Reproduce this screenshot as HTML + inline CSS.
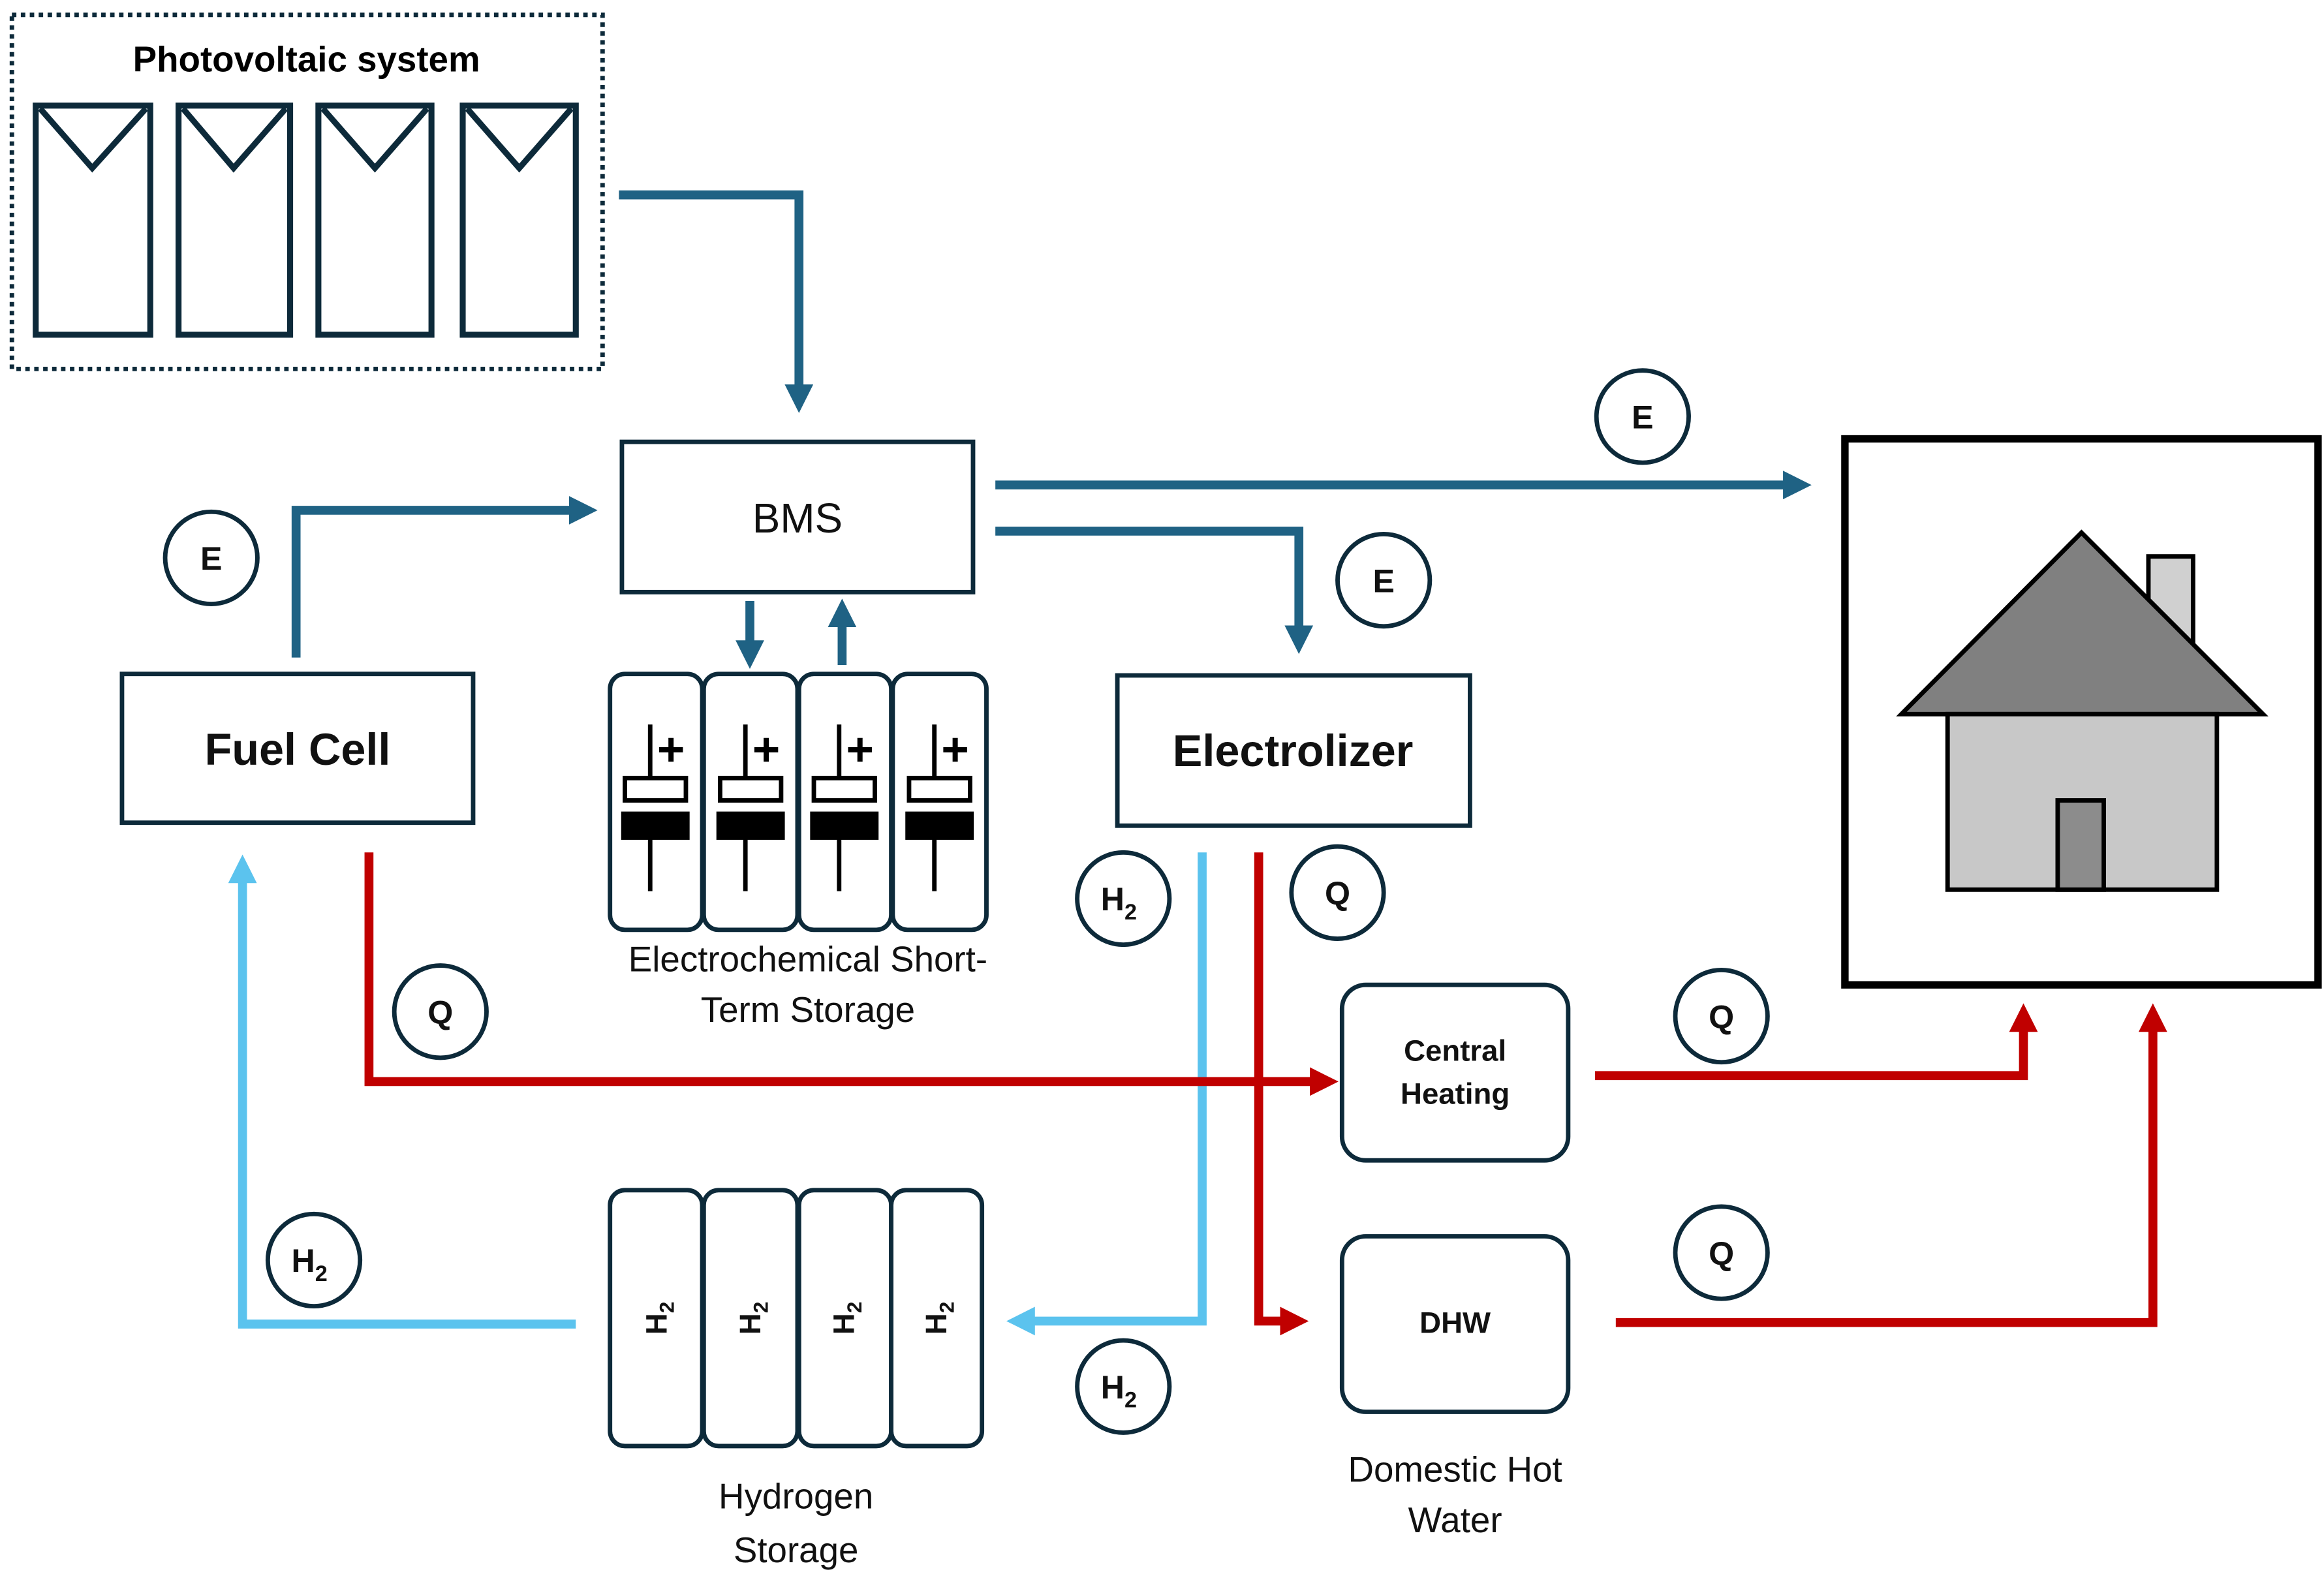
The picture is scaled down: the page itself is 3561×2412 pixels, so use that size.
<!DOCTYPE html>
<html><head><meta charset="utf-8"><style>html,body{margin:0;padding:0;background:#fff}svg{display:block}</style></head>
<body>
<svg width="3561" height="2412" viewBox="0 0 1562 1058" preserveAspectRatio="none" xmlns="http://www.w3.org/2000/svg" font-family="Liberation Sans, sans-serif">
<defs>
<marker id="ab" viewBox="0 0 10 10" refX="5" refY="5" markerWidth="3.2" markerHeight="3.2" orient="auto"><path d="M0,0L10,5L0,10z" fill="#1f6284"/></marker>
<marker id="ar" viewBox="0 0 10 10" refX="5" refY="5" markerWidth="3.2" markerHeight="3.2" orient="auto"><path d="M0,0L10,5L0,10z" fill="#c00000"/></marker>
<marker id="al" viewBox="0 0 10 10" refX="5" refY="5" markerWidth="3.2" markerHeight="3.2" orient="auto"><path d="M0,0L10,5L0,10z" fill="#5bc3ee"/></marker>
</defs>
<g stroke="#0d2a3a" fill="none">
<rect x="8" y="10" width="397" height="238" stroke-width="3" stroke-dasharray="3,3"/>
<g stroke-width="4">
<rect x="24" y="71" width="77" height="154"/><path d="M27,73L62,113L98,73"/>
<rect x="120" y="71" width="75" height="154"/><path d="M123,73L157,113L192,73"/>
<rect x="214" y="71" width="76" height="154"/><path d="M217,73L252,113L287,73"/>
<rect x="311" y="71" width="76" height="154"/><path d="M314,73L349,113L384,73"/>
</g>
</g>
<text x="206" y="48" font-size="24" font-weight="bold" text-anchor="middle" fill="#000">Photovoltaic system</text>
<g stroke="#1f6284" stroke-width="6" fill="none">
<path d="M416,131H537V268" marker-end="url(#ab)"/>
<path d="M669,326H1208" marker-end="url(#ab)"/>
<path d="M669,357H873V430" marker-end="url(#ab)"/>
<path d="M199,442V343H392" marker-end="url(#ab)"/>
<path d="M504,404V440" marker-end="url(#ab)"/>
<path d="M566,447V412" marker-end="url(#ab)"/>
</g>
<g stroke="#5bc3ee" stroke-width="6" fill="none">
<path d="M808,573V888H686" marker-end="url(#al)"/>
<path d="M387,890H163V584" marker-end="url(#al)"/>
</g>
<g stroke="#c00000" stroke-width="6" fill="none">
<path d="M846,573V888H870" marker-end="url(#ar)"/>
<path d="M248,573V727H890" marker-end="url(#ar)"/>
<path d="M1072,723H1360V684" marker-end="url(#ar)"/>
<path d="M1086,889H1447V684" marker-end="url(#ar)"/>
</g>
<g stroke="#0d2a3a" stroke-width="3" fill="#fff">
<rect x="418" y="297" width="236" height="101"/>
<rect x="82" y="453" width="236" height="100"/>
<rect x="751" y="454" width="237" height="101"/>
<rect x="902" y="662" width="152" height="118" rx="16"/>
<rect x="902" y="831" width="152" height="118" rx="16"/>
<rect x="410" y="453" width="62" height="172" rx="10"/>
<rect x="473" y="453" width="63" height="172" rx="10"/>
<rect x="537" y="453" width="62" height="172" rx="10"/>
<rect x="600" y="453" width="63" height="172" rx="10"/>
<rect x="410" y="800" width="62" height="172" rx="10"/>
<rect x="473" y="800" width="63" height="172" rx="10"/>
<rect x="537" y="800" width="62" height="172" rx="10"/>
<rect x="599" y="800" width="61" height="172" rx="10"/>
<circle cx="1104" cy="280" r="31"/><circle cx="930" cy="390" r="31"/><circle cx="142" cy="375" r="31"/>
<circle cx="899" cy="600" r="31"/><circle cx="755" cy="604" r="31"/>
<circle cx="296" cy="680" r="31"/><circle cx="1157" cy="683" r="31"/><circle cx="1157" cy="842" r="31"/>
<circle cx="211" cy="847" r="31"/><circle cx="755" cy="932" r="31"/>
</g>
<g stroke="#000" stroke-width="3" fill="#fff">
<g transform="translate(441,0)"><path d="M-4,487V523" fill="none"/><path d="M2,504H18M10,496V512" fill="none" stroke-width="3.5"/><rect x="-21" y="523" width="41" height="15"/><rect x="-22" y="547" width="43" height="16" fill="#000"/><path d="M-4,563V599"/></g>
<g transform="translate(505,0)"><path d="M-4,487V523" fill="none"/><path d="M2,504H18M10,496V512" fill="none" stroke-width="3.5"/><rect x="-21" y="523" width="41" height="15"/><rect x="-22" y="547" width="43" height="16" fill="#000"/><path d="M-4,563V599"/></g>
<g transform="translate(568,0)"><path d="M-4,487V523" fill="none"/><path d="M2,504H18M10,496V512" fill="none" stroke-width="3.5"/><rect x="-21" y="523" width="41" height="15"/><rect x="-22" y="547" width="43" height="16" fill="#000"/><path d="M-4,563V599"/></g>
<g transform="translate(632,0)"><path d="M-4,487V523" fill="none"/><path d="M2,504H18M10,496V512" fill="none" stroke-width="3.5"/><rect x="-21" y="523" width="41" height="15"/><rect x="-22" y="547" width="43" height="16" fill="#000"/><path d="M-4,563V599"/></g>
</g>
<rect x="1240" y="295" width="318" height="367" fill="none" stroke="#000" stroke-width="5"/>
<g stroke="#000" stroke-width="3">
<rect x="1444" y="374" width="30" height="60" fill="#d0d0d0"/>
<path d="M1278,480L1399,358L1521,480Z" fill="#808080"/>
<rect x="1309" y="480" width="181" height="118" fill="#c8c8c8"/>
<rect x="1383" y="538" width="31" height="60" fill="#8c8c8c"/>
</g>
<g fill="#111" text-anchor="middle">
<text x="536" y="358" font-size="28">BMS</text>
<text x="200" y="514" font-size="30" font-weight="bold">Fuel Cell</text>
<text x="869" y="515" font-size="30" font-weight="bold">Electrolizer</text>
<text x="978" y="713" font-size="20" font-weight="bold">Central</text>
<text x="978" y="742" font-size="20" font-weight="bold">Heating</text>
<text x="978" y="896" font-size="20" font-weight="bold">DHW</text>
<text x="543" y="653" font-size="24">Electrochemical Short-</text>
<text x="543" y="687" font-size="24">Term Storage</text>
<text x="535" y="1014" font-size="24">Hydrogen</text>
<text x="535" y="1050" font-size="24">Storage</text>
<text x="978" y="996" font-size="24">Domestic Hot</text>
<text x="978" y="1030" font-size="24">Water</text>
<g font-size="22" font-weight="bold">
<text x="1104" y="288">E</text><text x="930" y="398">E</text><text x="142" y="383">E</text>
<text x="899" y="608">Q</text><text x="296" y="688">Q</text><text x="1157" y="691">Q</text><text x="1157" y="850">Q</text>
<text x="752" y="612">H<tspan font-size="15" dy="6">2</tspan></text>
<text x="208" y="855">H<tspan font-size="15" dy="6">2</tspan></text>
<text x="752" y="940">H<tspan font-size="15" dy="6">2</tspan></text>
</g>
<g font-size="20" font-weight="bold">
<text transform="translate(448,886) rotate(-90)">H<tspan font-size="14" dy="5">2</tspan></text>
<text transform="translate(511,886) rotate(-90)">H<tspan font-size="14" dy="5">2</tspan></text>
<text transform="translate(574,886) rotate(-90)">H<tspan font-size="14" dy="5">2</tspan></text>
<text transform="translate(636,886) rotate(-90)">H<tspan font-size="14" dy="5">2</tspan></text>
</g>
</g>
</svg>
</body></html>
